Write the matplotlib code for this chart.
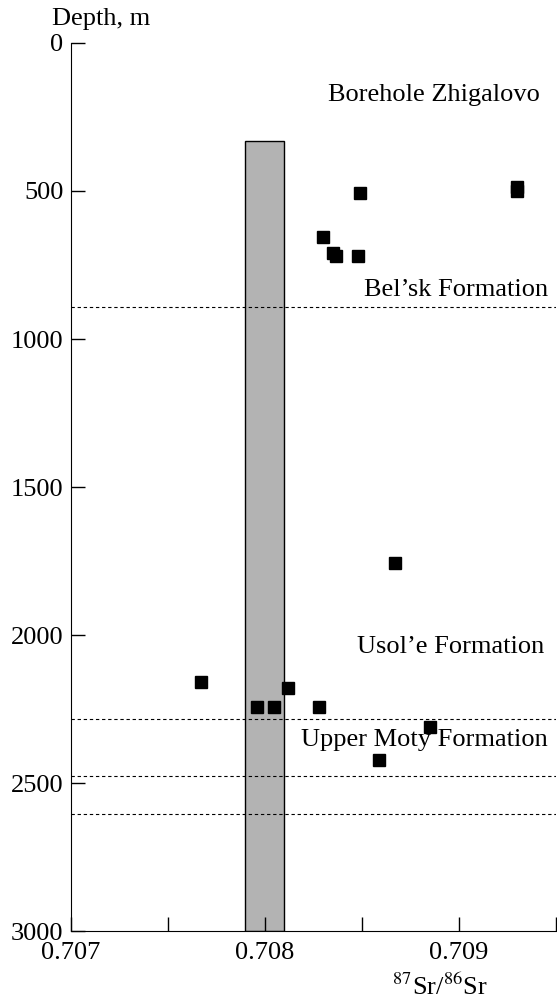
import numpy as np
import matplotlib
matplotlib.use('Agg')
import matplotlib.pyplot as plt

plt.rcParams['font.family'] = ['Liberation Serif', 'DejaVu Serif']
plt.rcParams['mathtext.fontset'] = 'stix'

# 87Sr/86Sr ratios and sample depths (m), borehole Zhigalovo
sr_ratio = [0.70849, 0.70930, 0.70930, 0.70830, 0.70835, 0.70837, 0.70848,
            0.70867, 0.70767, 0.70796, 0.70805, 0.70812, 0.70828, 0.70885, 0.70859]
depth = [508, 488, 500, 656, 710, 720, 720,
         1757, 2159, 2244, 2244, 2178, 2242, 2310, 2422]

# seawater band and formation boundaries
band_lo, band_hi, band_top = 0.7079, 0.7081, 330
boundaries = [892, 2283, 2475, 2605]

labels = ['Borehole Zhigalovo', 'Bel\u2019sk Formation', 'Usol\u2019e Formation',
          'Upper Moty Formation']
label_x = [0.70942, 0.70946, 0.70944, 0.70946]
label_y = [176, 834, 2040, 2355]

xticks_major = [0.707, 0.708, 0.709]
xticks_minor = [0.7075, 0.7085, 0.7095]
yticks = [0, 500, 1000, 1500, 2000, 2500, 3000]

fig = plt.figure(figsize=(5.57, 10), dpi=100)
ax = fig.add_axes([0.1266, 0.069, 0.8714, 0.888])

ax.bar((band_lo + band_hi) / 2, 3000 - band_top, width=band_hi - band_lo,
       bottom=band_top, color='#b3b3b3', edgecolor='black', linewidth=1.0, zorder=1)

for b in boundaries:
    ax.axhline(b, color='black', linestyle=(0, (3, 2.5)), linewidth=0.8, zorder=2)

ax.plot(sr_ratio, depth, 's', color='black', ms=8.5, zorder=3)

for t, x, y in zip(labels, label_x, label_y):
    ax.text(x, y, t, ha='right', va='center', fontsize=19)

ax.set_xlim(0.707, 0.7095)
ax.set_ylim(3000, 0)
ax.set_xticks(xticks_major)
ax.set_xticklabels(['0.707', '0.708', '0.709'])
ax.set_xticks(xticks_minor, minor=True)
ax.set_yticks(yticks)
ax.set_yticklabels([str(v) for v in yticks])

ax.spines['top'].set_visible(False)
ax.spines['right'].set_visible(False)
ax.tick_params(axis='both', which='both', direction='in', length=10, width=1.0,
               labelsize=19)
ax.tick_params(axis='x', which='major', pad=8)
ax.tick_params(axis='y', which='major', pad=5)

ax.text(0.761, -0.072, r'$^{87}$Sr/$^{86}$Sr', transform=ax.transAxes,
        ha='center', va='baseline', fontsize=19)
ax.text(-0.038, 1.0203, 'Depth, m', transform=ax.transAxes,
        ha='left', va='baseline', fontsize=19)

fig.savefig('out.png', dpi=100)
